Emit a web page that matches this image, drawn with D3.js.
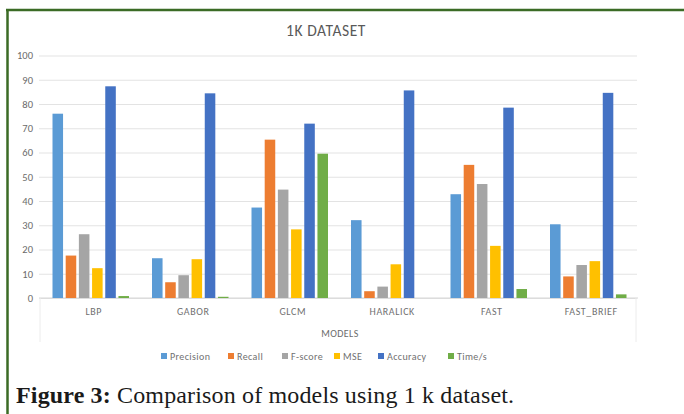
<!DOCTYPE html>
<html>
<head>
<meta charset="utf-8">
<script src="https://cdn.jsdelivr.net/npm/d3@7"></script>
<style>
  body { margin: 0; background: #fff; }
  svg { display: block; }
</style>
</head>
<body>
<div id="chart"></div>
<script>
// chart data
const models = ["LBP", "GABOR", "GLCM", "HARALICK", "FAST", "FAST_BRIEF"];
const seriesNames = ["Precision", "Recall", "F-score", "MSE", "Accuracy", "Time/s"];
const precision = [76, 16.4, 37.3, 32.1, 42.8, 30.4];
const recall    = [17.5, 6.5, 65.3, 2.8, 54.9, 8.9];
const fscore    = [26.3, 9.4, 44.7, 4.7, 47, 13.6];
const mse       = [12.3, 16, 28.3, 13.9, 21.5, 15.2];
const accuracy  = [87.3, 84.4, 71.9, 85.6, 78.5, 84.6];
const timeS     = [0.8, 0.5, 59.5, 0, 3.7, 1.5];
const yTicks = [0, 10, 20, 30, 40, 50, 60, 70, 80, 90, 100];
const colors = ["#5B9BD5", "#ED7D31", "#A5A5A5", "#FFC000", "#4472C4", "#70AD47"];

const WIDTH = 684, HEIGHT = 414;
const plot = { left: 41, right: 638, top: 55.5, bottom: 298 };
const labelFont = "Calibri, 'Open Sans', 'Liberation Sans', sans-serif";

const values = [precision, recall, fscore, mse, accuracy, timeS];
const table = [];
models.forEach((m, i) => {
  seriesNames.forEach((s, j) => table.push({ model: m, series: s, value: values[j][i] }));
});

const svg = d3.select("#chart").append("svg")
  .attr("width", WIDTH)
  .attr("height", HEIGHT);

// green frame (top and left)
svg.append("line")
  .attr("x1", 6).attr("x2", WIDTH).attr("y1", 10).attr("y2", 10)
  .attr("stroke", "#3b6b25").attr("stroke-width", 2.5);
svg.append("line")
  .attr("x1", 7.5).attr("x2", 7.5).attr("y1", 9).attr("y2", HEIGHT)
  .attr("stroke", "#3b6b25").attr("stroke-width", 2.5);

const x0 = d3.scaleBand().domain(models).range([plot.left, plot.right]);
const x1 = d3.scaleBand().domain(seriesNames).range([11.5, 88]).paddingInner(0.2);
const y = d3.scaleLinear().domain([0, 100]).range([plot.bottom, plot.top]);
const color = d3.scaleOrdinal().domain(seriesNames).range(colors);

// gridlines + y labels
const yAxis = d3.axisLeft(y).tickValues(yTicks).tickSize(-(plot.right - plot.left + 1)).tickPadding(6);
const gy = svg.append("g")
  .attr("transform", `translate(${plot.left - 2},0)`)
  .call(yAxis);
gy.select(".domain").remove();
gy.selectAll(".tick line").attr("stroke", "#e3e3e3").attr("stroke-width", 1.2);
gy.selectAll(".tick text")
  .attr("fill", "#6b6b6b")
  .style("font-family", labelFont)
  .style("font-size", "10.5px");

// x axis box
svg.append("line")
  .attr("x1", plot.left - 2).attr("x2", plot.right).attr("y1", plot.bottom).attr("y2", plot.bottom)
  .attr("stroke", "#d6d6d6");
[plot.left - 1, plot.right - 2].forEach(xv => {
  svg.append("line")
    .attr("x1", xv).attr("x2", xv).attr("y1", plot.bottom).attr("y2", 342)
    .attr("stroke", "#ececec");
});

// bars
svg.append("g")
  .selectAll("rect")
  .data(table)
  .join("rect")
  .attr("x", d => x0(d.model) + x1(d.series))
  .attr("y", d => y(d.value))
  .attr("width", x1.bandwidth())
  .attr("height", d => y(0) - y(d.value))
  .attr("fill", d => color(d.series));

// category labels
const gx = svg.append("g")
  .attr("transform", `translate(0,${plot.bottom})`)
  .call(d3.axisBottom(x0).tickSize(0).tickPadding(10));
gx.select(".domain").remove();
gx.selectAll(".tick text")
  .attr("fill", "#707070")
  .attr("dx", 3)
  .style("font-family", labelFont)
  .style("font-size", "10px")
  .style("letter-spacing", "0.6px");

// titles
svg.append("text")
  .attr("x", 326).attr("y", 36)
  .attr("text-anchor", "middle")
  .attr("fill", "#595959")
  .style("font-family", labelFont)
  .style("font-size", "15.5px")
  .style("letter-spacing", "0.6px")
  .text("1K DATASET");

svg.append("text")
  .attr("x", 340).attr("y", 337)
  .attr("text-anchor", "middle")
  .attr("fill", "#6b6b6b")
  .style("font-family", labelFont)
  .style("font-size", "10px")
  .style("letter-spacing", "0.4px")
  .text("MODELS");

// legend
const legendX = [161, 228, 282, 334, 378, 448];
const lg = svg.append("g")
  .selectAll("g")
  .data(seriesNames)
  .join("g")
  .attr("transform", (d, i) => `translate(${legendX[i]},357)`);
lg.append("rect")
  .attr("x", 0).attr("y", -4).attr("width", 6).attr("height", 6)
  .attr("fill", d => color(d));
lg.append("text")
  .attr("x", 9).attr("y", 2.5)
  .attr("fill", "#707070")
  .style("font-family", labelFont)
  .style("font-size", "10px")
  .style("letter-spacing", "0.4px")
  .text(d => d);

// caption
const cap = svg.append("text")
  .attr("x", 16).attr("y", 403)
  .attr("fill", "#1a1a1a")
  .attr("textLength", 498)
  .attr("lengthAdjust", "spacing")
  .style("font-family", "'Liberation Serif', 'DejaVu Serif', serif")
  .style("font-size", "24px");
cap.append("tspan").attr("font-weight", "bold").text("Figure 3:");
cap.append("tspan").text(" Comparison of models using 1 k dataset.");
</script>
</body>
</html>
